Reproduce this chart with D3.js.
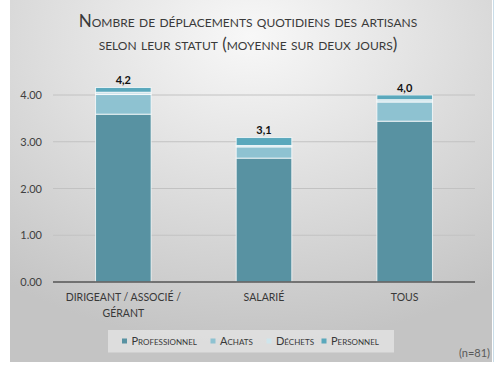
<!DOCTYPE html>
<html><head><meta charset="utf-8">
<script src="https://cdn.jsdelivr.net/npm/d3@7"></script>
<style>
html,body{margin:0;padding:0;background:#fff;}
text{font-family:Lato, "Open Sans", sans-serif;}
</style></head>
<body>
<svg id="chart" width="495" height="379"></svg>
<script>
const titleLines = ["Nombre de déplacements quotidiens des artisans", "selon leur statut (moyenne sur deux jours)"];
const categories = [["DIRIGEANT / ASSOCIÉ /", "GÉRANT"], ["SALARIÉ"], ["TOUS"]];
const seriesNames = ["Professionnel", "Achats", "Déchets", "Personnel"];
const professionnel = [3.59, 2.65, 3.44];
const achats = [0.42, 0.24, 0.41];
const dechets = [0.05, 0.03, 0.05];
const personnel = [0.10, 0.17, 0.10];
const totalLabels = ["4,2", "3,1", "4,0"];
const yTicks = [0, 1, 2, 3, 4];
const note = "(n=81)";
const colors = ["#5892a2", "#8ec2d1", "#cfe5ec", "#5aa8bc"];

const svg = d3.select("#chart");
const defs = svg.append("defs");
const grad = defs.append("radialGradient").attr("id","bg")
  .attr("cx","50%").attr("cy","10%").attr("r","85%");
grad.append("stop").attr("offset","0%").attr("stop-color","#f8f8f8");
grad.append("stop").attr("offset","100%").attr("stop-color","#c4c4c4");

svg.append("rect").attr("x",10).attr("y",0).attr("width",482).attr("height",362).attr("fill","url(#bg)");
svg.append("line").attr("x1",493.5).attr("x2",493.5).attr("y1",0).attr("y2",362).attr("stroke","#c9dde9").attr("stroke-width",1);

const idx = d3.range(categories.length);
const x = d3.scaleBand().domain(idx).range([53,475]).paddingInner(0.605).paddingOuter(0.3025);
const y = d3.scaleLinear().domain([0,4]).range([282,95]);

// gridlines
svg.append("g").selectAll("line").data(yTicks.filter(d=>d>0)).join("line")
  .attr("x1",53).attr("x2",475).attr("y1",d=>y(d)).attr("y2",d=>y(d))
  .attr("stroke","#c2c2c2").attr("stroke-width",1);

// y axis labels
const yAxis = d3.axisLeft(y).tickValues(yTicks).tickFormat(d3.format(".2f")).tickSize(0).tickPadding(11);
const gy = svg.append("g").attr("transform","translate(53,0)").call(yAxis);
gy.select(".domain").remove();
gy.selectAll("text").attr("font-size",11).attr("fill","#404040").style("font-family","Lato, sans-serif");

// stacked data
const rows = idx.map(i => ({i, Professionnel: professionnel[i], Achats: achats[i], "Déchets": dechets[i], Personnel: personnel[i]}));
const stack = d3.stack().keys(seriesNames)(rows);
svg.append("g").selectAll("g").data(stack).join("g")
  .attr("fill",(d,k)=>colors[k])
  .selectAll("rect").data(d=>d).join("rect")
  .attr("x",d=>x(d.data.i)).attr("width",x.bandwidth())
  .attr("y",d=>y(d[1])).attr("height",d=>y(d[0])-y(d[1]))
  .attr("stroke","rgba(255,255,255,0.75)").attr("stroke-width",1);

// axis line
svg.append("line").attr("x1",53).attr("x2",475).attr("y1",y(0)).attr("y2",y(0))
  .attr("stroke","#555").attr("stroke-width",1.5);

// totals
svg.append("g").selectAll("text").data(idx).join("text")
  .attr("x",i=>x(i)+x.bandwidth()/2)
  .attr("y",i=>y(professionnel[i]+achats[i]+dechets[i]+personnel[i]) - 3.5)
  .attr("text-anchor","middle").attr("font-size",11).attr("font-weight","bold").attr("fill","#111")
  .text(i=>totalLabels[i]);

// category labels
const cg = svg.append("g").selectAll("text").data(idx).join("text")
  .attr("text-anchor","middle").attr("font-size",10.5).attr("fill","#383838")
  .attr("x",i=>x(i)+x.bandwidth()/2).attr("y",301);
cg.selectAll("tspan").data(i=>categories[i].map(t=>({t,i}))).join("tspan")
  .attr("x",d=>x(d.i)+x.bandwidth()/2).attr("dy",(d,k)=>k===0?0:16).text(d=>d.t);

// title
svg.append("g").selectAll("text").data(titleLines).join("text")
  .attr("x",248).attr("y",(d,k)=>k===0?27:50)
  .attr("text-anchor","middle").attr("font-size",17).attr("fill","#3a3a3a")
  .style("font-variant","small-caps").text(d=>d);

// legend
const lg = svg.append("g");
lg.append("rect").attr("x",108).attr("y",330).attr("width",286).attr("height",22.5).attr("fill","#e2e2e2").attr("opacity",0.85);
const legX = [122, 210.5, 266.5, 321.5];
const items = lg.selectAll("g").data(seriesNames).join("g").attr("transform",(d,k)=>`translate(${legX[k]},0)`);
items.append("rect").attr("x",0).attr("y",338.5).attr("width",5).attr("height",5).attr("fill",(d,k)=>colors[k]);
items.append("text").attr("x",9.5).attr("y",345).attr("font-size",11).attr("fill","#383838")
  .style("font-variant","small-caps").text(d=>d);

svg.append("text").attr("x",490).attr("y",357).attr("text-anchor","end").attr("font-size",11).attr("fill","#595959").text(note);
</script>
</body></html>
